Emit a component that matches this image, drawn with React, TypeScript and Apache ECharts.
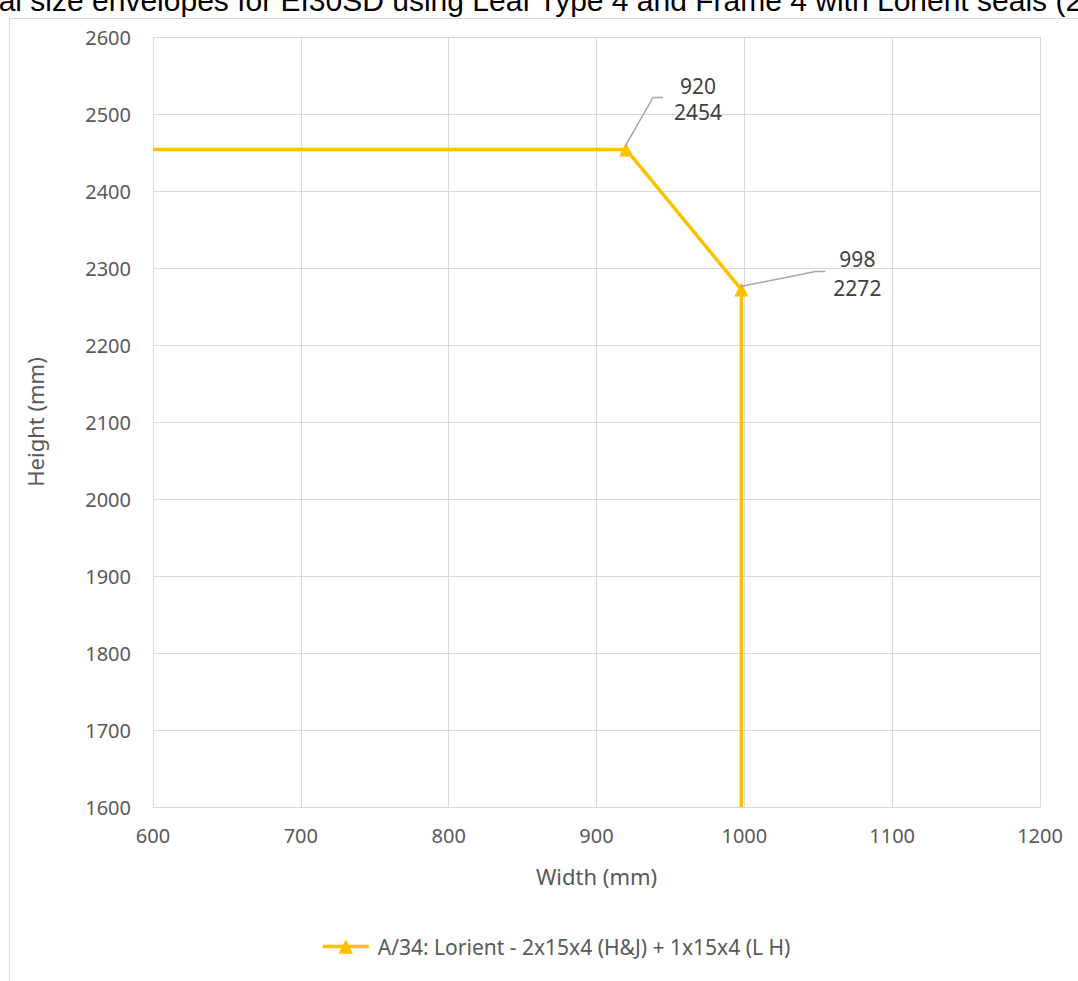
import React, { useEffect, useRef } from "react";
import * as echarts from "echarts";

const seriesName = "A/34: Lorient - 2x15x4 (H&J) + 1x15x4 (L H)";
const widths = [600, 920, 998, 998];
const heights = [2454, 2454, 2272, 1600];
const showMarker = [false, true, true, false];
const xTicks = { min: 600, max: 1200, interval: 100 };
const yTicks = { min: 1600, max: 2600, interval: 100 };
const titleText =
  "Nominal size envelopes for EI30SD using Leaf Type 4 and Frame 4 with Lorient seals (2 seals)";

// label layout (pixel offsets from the marker): text centre, leader kink, leader end
const labelLayouts: Record<number, { tx: number; ty: number; kx: number; ky: number; ex: number; lh: number }> = {
  1: { tx: 72, ty: -50, kx: 27, ky: -52, ex: 37, lh: 26 },
  2: { tx: 116, ty: -16, kx: 74, ky: -18, ex: 84, lh: 29 },
};

const FONT = "'Noto Sans', sans-serif";
const GRAY = "#595959";
const GRID = "#D9D9D9";

export default function App() {
  const ref = useRef<HTMLDivElement>(null);
  useEffect(() => {
    if (!ref.current) return;
    const chart = echarts.init(ref.current, undefined, { renderer: "svg" });
    const data = widths.map((w, i) => {
      const item: any = { value: [w, heights[i]] };
      if (!showMarker[i]) item.symbol = "none";
      return item;
    });
    const baseGraphic: any[] = [
      {
        id: "frame",
        type: "rect",
        shape: { x: 9.5, y: 18.5, width: 3000, height: 3000 },
        style: { fill: "#fff", stroke: GRID, lineWidth: 1 },
        z: -10,
        silent: true,
      },
      {
        id: "title",
        type: "text",
        x: -88,
        y: 15,
        style: {
          text: titleText,
          fontSize: 30,
          fontFamily: "'Liberation Sans', Arial, sans-serif",
          fill: "#000",
          verticalAlign: "bottom",
        },
      },
    ];
    chart.setOption({
      animation: false,
      textStyle: { fontFamily: FONT },
      graphic: baseGraphic,
      grid: { left: 153, right: 38, top: 37, bottom: 174 },
      legend: {
        bottom: 19,
        left: 316,
        itemWidth: 46,
        itemHeight: 18,
        lineStyle: { width: 3.5 },
        textStyle: { color: GRAY, fontSize: 21, fontFamily: FONT, padding: [0, 0, 0, 4] },
        data: [seriesName],
      },
      xAxis: {
        type: "value",
        min: xTicks.min,
        max: xTicks.max,
        interval: xTicks.interval,
        name: "Width (mm)",
        nameLocation: "middle",
        nameGap: 58,
        nameTextStyle: { color: GRAY, fontSize: 22, fontFamily: FONT },
        axisLine: { show: true, lineStyle: { color: GRID } },
        axisTick: { show: false },
        axisLabel: {
          color: GRAY,
          fontSize: 20,
          margin: 18,
          fontFamily: FONT,
          formatter: (v: number) => String(v),
        },
        splitLine: { show: true, lineStyle: { color: GRID } },
      },
      yAxis: {
        type: "value",
        min: yTicks.min,
        max: yTicks.max,
        interval: yTicks.interval,
        name: "Height (mm)",
        nameLocation: "middle",
        nameGap: 107,
        nameTextStyle: { color: GRAY, fontSize: 22, fontFamily: FONT },
        axisLine: { show: true, lineStyle: { color: GRID } },
        axisTick: { show: false },
        axisLabel: {
          color: GRAY,
          fontSize: 20,
          margin: 22,
          fontFamily: FONT,
          formatter: (v: number) => String(v),
        },
        splitLine: { show: true, lineStyle: { color: GRID } },
      },
      series: [
        {
          name: seriesName,
          type: "line",
          data,
          color: "#FFC000",
          lineStyle: { color: "#FFC000", width: 3.5 },
          itemStyle: { color: "#FFC000" },
          symbol: "triangle",
          symbolSize: 14,
          showAllSymbol: true,
        },
      ],
    });

    const extra: any[] = [];
    widths.forEach((w, i) => {
      const lay = labelLayouts[i];
      if (!lay) return;
      const p = chart.convertToPixel({ seriesIndex: 0 }, [w, heights[i]]) as number[];
      extra.push({
        id: "leader" + i,
        type: "polyline",
        shape: {
          points: [
            [p[0] - 1, p[1] - 3],
            [p[0] + lay.kx, p[1] + lay.ky],
            [p[0] + lay.ex, p[1] + lay.ky],
          ],
        },
        style: { stroke: "#A6A6A6", lineWidth: 1.5, fill: null },
        z: 10,
      });
      extra.push({
        id: "lbl" + i,
        type: "text",
        x: p[0] + lay.tx,
        y: p[1] + lay.ty,
        style: {
          text: `${w}\n${heights[i]}`,
          fontSize: 21,
          lineHeight: lay.lh,
          fontFamily: FONT,
          fill: "#404040",
          align: "center",
          verticalAlign: "middle",
        },
        z: 10,
      });
    });
    chart.setOption({ graphic: [...baseGraphic, ...extra] });
    return () => chart.dispose();
  }, []);
  return (
    <div
      ref={ref}
      style={{ position: "absolute", left: 0, top: 0, width: 1078, height: 981 }}
    />
  );
}
